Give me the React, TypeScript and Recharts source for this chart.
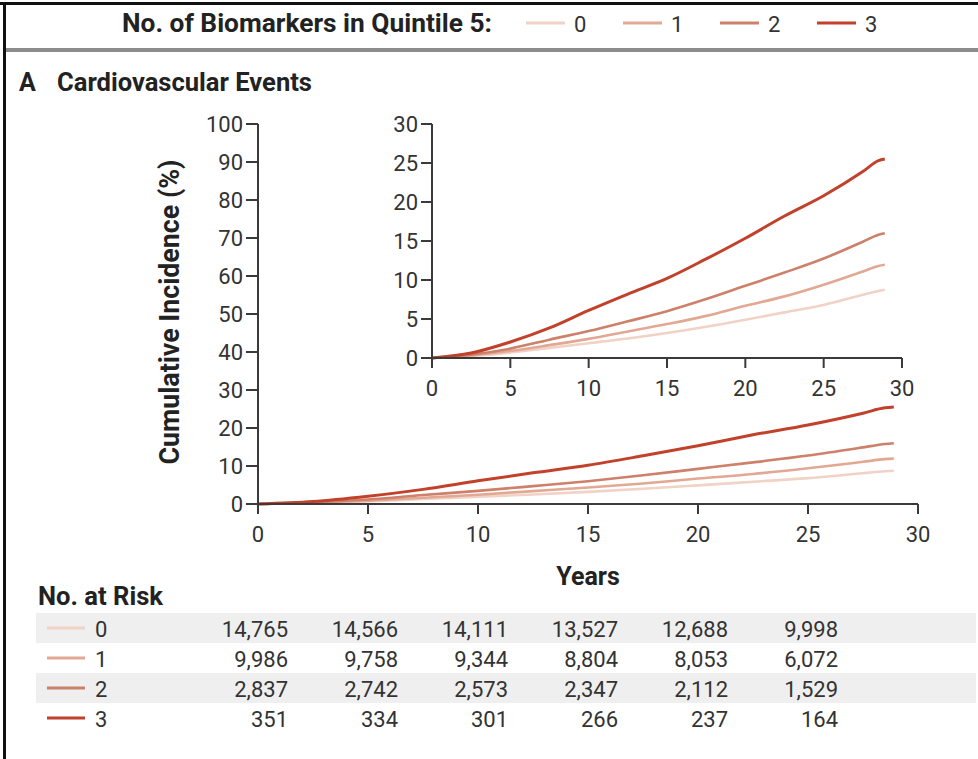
import { type ReactElement } from 'react';
import { Line, LineChart, XAxis, YAxis } from 'recharts';

const years = [0, 2.5, 5, 7.5, 10, 12.5, 15, 17.5, 20, 22.5, 25, 27.5, 28.5, 28.9];

// cumulative incidence (%) by number of biomarkers in quintile 5
const group0 = [0, 0.26, 0.7, 1.3, 1.9, 2.5, 3.2, 4.0, 4.9, 5.85, 6.8, 8.1, 8.6, 8.75];
const group1 = [0, 0.34, 0.9, 1.65, 2.45, 3.4, 4.35, 5.4, 6.7, 7.9, 9.4, 11.1, 11.8, 11.95];
const group2 = [0, 0.43, 1.2, 2.35, 3.45, 4.7, 6.0, 7.55, 9.25, 10.95, 12.75, 14.9, 15.8, 16.0];
const group3 = [0, 0.64, 2.05, 3.85, 6.1, 8.2, 10.2, 12.7, 15.35, 18.2, 20.8, 23.9, 25.3, 25.5];

const groupLabels = ['0', '1', '2', '3'];
const groupColors = ['#f1d2c6', '#e2a893', '#cd806a', '#c1412b'];
const groupKeys = ['g0', 'g1', 'g2', 'g3'];

const xTicks = [0, 5, 10, 15, 20, 25, 30];
const mainYTicks = [0, 10, 20, 30, 40, 50, 60, 70, 80, 90, 100];
const insetYTicks = [0, 5, 10, 15, 20, 25, 30];

// number at risk
const riskYears = [0, 5, 10, 15, 20, 25];
const risk0 = [14765, 14566, 14111, 13527, 12688, 9998];
const risk1 = [9986, 9758, 9344, 8804, 8053, 6072];
const risk2 = [2837, 2742, 2573, 2347, 2112, 1529];
const risk3 = [351, 334, 301, 266, 237, 164];
const riskRows = [risk0, risk1, risk2, risk3];

const data = years.map((t, i) => ({
  t,
  g0: group0[i],
  g1: group1[i],
  g2: group2[i],
  g3: group3[i],
}));

const FONT = 'Roboto, "Noto Sans", sans-serif';
const INK = '#333';
const AXIS = { stroke: '#3a3a3a', strokeWidth: 2 };
const TICK = { fill: INK, fontSize: 22, fontFamily: FONT };

// main plot area: x 258..918, y 124..504
const PLOT_LEFT = 258;
const PX_PER_YEAR = 22;

function series(): ReactElement[] {
  return groupKeys.map((key, i) => (
    <Line
      key={key}
      dataKey={key}
      type="monotone"
      stroke={groupColors[i]}
      strokeWidth={i === 3 ? 3 : 2.6}
      dot={false}
      activeDot={false}
      isAnimationActive={false}
    />
  ));
}

export default function App(): ReactElement {
  return (
    <div
      style={{
        position: 'absolute',
        left: 0,
        top: 0,
        width: 978,
        height: 759,
        background: '#fff',
        fontFamily: FONT,
        overflow: 'hidden',
      }}
    >
      <div style={{ position: 'absolute', left: 0, top: 0 }}>
        <LineChart width={978} height={560} data={data} margin={{ top: 124, right: 60, bottom: 26, left: 198 }}>
          <XAxis
            dataKey="t"
            type="number"
            domain={[0, 30]}
            ticks={xTicks}
            interval={0}
            height={30}
            axisLine={AXIS}
            tickLine={AXIS}
            tickSize={10}
            tickMargin={12}
            tick={TICK}
          />
          <YAxis
            type="number"
            domain={[0, 100]}
            ticks={mainYTicks}
            interval={0}
            width={60}
            axisLine={AXIS}
            tickLine={AXIS}
            tickSize={12}
            tickMargin={3}
            tick={TICK}
          />
          {series()}
        </LineChart>
      </div>

      <div style={{ position: 'absolute', left: 0, top: 0 }}>
        <LineChart width={978} height={420} data={data} margin={{ top: 124, right: 76, bottom: 32, left: 372 }}>
          <XAxis
            dataKey="t"
            type="number"
            domain={[0, 30]}
            ticks={xTicks}
            interval={0}
            height={30}
            axisLine={AXIS}
            tickLine={AXIS}
            tickSize={10}
            tickMargin={12}
            tick={TICK}
          />
          <YAxis
            type="number"
            domain={[0, 30]}
            ticks={insetYTicks}
            interval={0}
            width={60}
            axisLine={AXIS}
            tickLine={AXIS}
            tickSize={11}
            tickMargin={3}
            tick={TICK}
          />
          {series()}
        </LineChart>
      </div>

      <svg
        width={978}
        height={759}
        style={{ position: 'absolute', left: 0, top: 0, pointerEvents: 'none' }}
        fontFamily={FONT}
      >
        {/* frame */}
        <rect x={0} y={2} width={978} height={3} fill="#111" />
        <rect x={3} y={2} width={3} height={757} fill="#111" />
        <rect x={6} y={48} width={972} height={4} fill="#8c8c8c" />

        {/* legend */}
        <text x={122} y={32} fontSize={25} fontWeight={700} fill="#222" textLength={370} lengthAdjust="spacingAndGlyphs">
          No. of Biomarkers in Quintile 5:
        </text>
        {groupLabels.map((label, i) => (
          <g key={label}>
            <line x1={526 + i * 97} x2={565 + i * 97} y1={23} y2={23} stroke={groupColors[i]} strokeWidth={3} />
            <text x={574 + i * 97} y={32} fontSize={22} fill={INK}>
              {label}
            </text>
          </g>
        ))}

        {/* panel title */}
        <text x={19} y={91} fontSize={25} fontWeight={700} fill="#222">
          A
        </text>
        <text x={57} y={91} fontSize={25} fontWeight={700} fill="#222" textLength={255} lengthAdjust="spacingAndGlyphs">
          Cardiovascular Events
        </text>

        {/* axis titles */}
        <text
          x={0}
          y={0}
          transform="translate(179 312) rotate(-90)"
          textAnchor="middle"
          fontSize={27}
          fontWeight={700}
          fill="#222"
          textLength={305}
          lengthAdjust="spacingAndGlyphs"
        >
          Cumulative Incidence (%)
        </text>
        <text x={588} y={585} textAnchor="middle" fontSize={25} fontWeight={700} fill="#222">
          Years
        </text>

        {/* number at risk table */}
        <text x={38} y={605} fontSize={25} fontWeight={700} fill="#222" textLength={125} lengthAdjust="spacingAndGlyphs">
          No. at Risk
        </text>
        {riskRows.map((row, r) => (
          <g key={r}>
            {r % 2 === 0 && <rect x={36} y={613 + r * 30} width={940} height={30} fill="#efefef" />}
            <line x1={47} x2={85} y1={628 + r * 30} y2={628 + r * 30} stroke={groupColors[r]} strokeWidth={3} />
            <text x={95} y={637 + r * 30} fontSize={22} fill={INK}>
              {groupLabels[r]}
            </text>
            {row.map((n, c) => (
              <text
                key={c}
                x={PLOT_LEFT + riskYears[c] * PX_PER_YEAR + 30}
                y={637 + r * 30}
                textAnchor="end"
                fontSize={22}
                fill={INK}
              >
                {n.toLocaleString('en-US')}
              </text>
            ))}
          </g>
        ))}
      </svg>
    </div>
  );
}
